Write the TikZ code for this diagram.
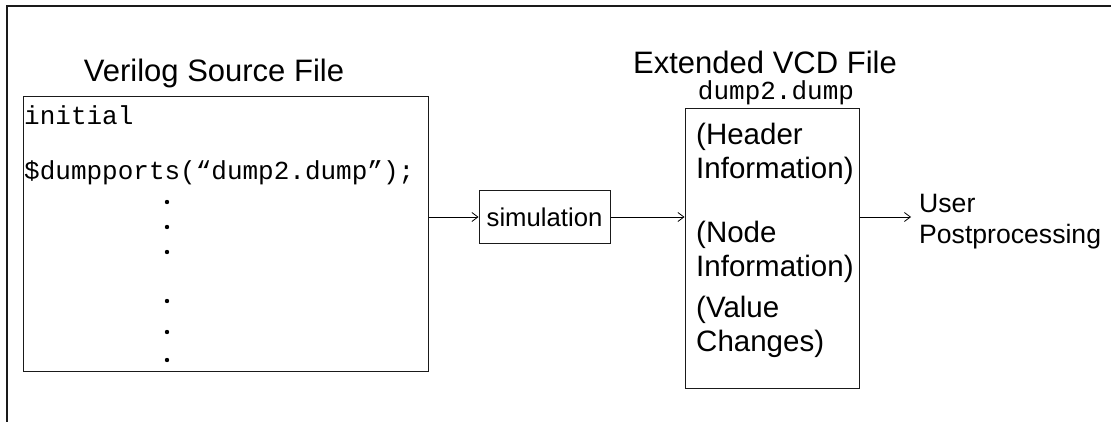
\documentclass[tikz,border=0pt]{standalone}
\usepackage{fontspec}
\setmainfont{Liberation Sans}
\setmonofont{Liberation Mono}
\usetikzlibrary{arrows.meta,positioning}
\definecolor{ink}{HTML}{1A1A1A}

\begin{document}
\begin{tikzpicture}[x=1pt,y=-1pt,
  box/.style={draw=ink,line width=1pt,inner sep=0pt},
  title/.style={font=\fontsize{31}{34}\selectfont,inner sep=0pt,anchor=base},
  txt/.style={font=\fontsize{29.5}{34}\selectfont,align=left,inner sep=0pt,anchor=west},
  code/.style={font=\ttfamily\fontsize{26}{28}\selectfont,inner sep=0pt,anchor=base west},
  arr/.style={-{Straight Barb[length=6pt,width=9pt]},line width=.8pt}]
\useasboundingbox (0,0) rectangle (1111,422);
\draw[ink,line width=1.3pt] (7,422)--(7,6)--(1111,6);
\node[box,minimum width=405pt,minimum height=274pt] (src) at (225.5,234) {};
\node[title] (srctitle) at (214,82) {Verilog Source File};
\node[code] (initial) at (24,125) {initial};
\node[code] (dumpports) at (24,180) {\$dumpports(“dump2.dump”);};
\foreach \y in {202,227,252,301,332,360} \fill (167,\y) circle (2.2pt);
\node[box,minimum width=131pt,minimum height=53pt,font=\fontsize{25.7}{28}\selectfont] (sim) at (544.5,217) {simulation};
\node[box,minimum width=174pt,minimum height=279pt] (vcd) at (772,248.5) {};
\node[title] (vcdtitle) at (765,74) {Extended VCD File};
\node[code,anchor=base] (fname) at (776,99.5) {dump2.dump};
\node[txt] (header) at (696,154) {(Header\\Information)};
\node[txt] (nodeinfo) at (696,252) {(Node\\Information)};
\node[txt] (values) at (696,327) {(Value\\Changes)};
\node[txt,font=\fontsize{26.6}{31}\selectfont,inner xsep=8pt] (post) at (911,222) {User\\Postprocessing};
\draw[arr] (src.east |- sim.west) -- (sim.west);
\draw[arr] (sim.east) -- (vcd.west |- sim.east);
\draw[arr] (vcd.east |- sim.east) -- (post.west |- sim.east);
\end{tikzpicture}
\end{document}
